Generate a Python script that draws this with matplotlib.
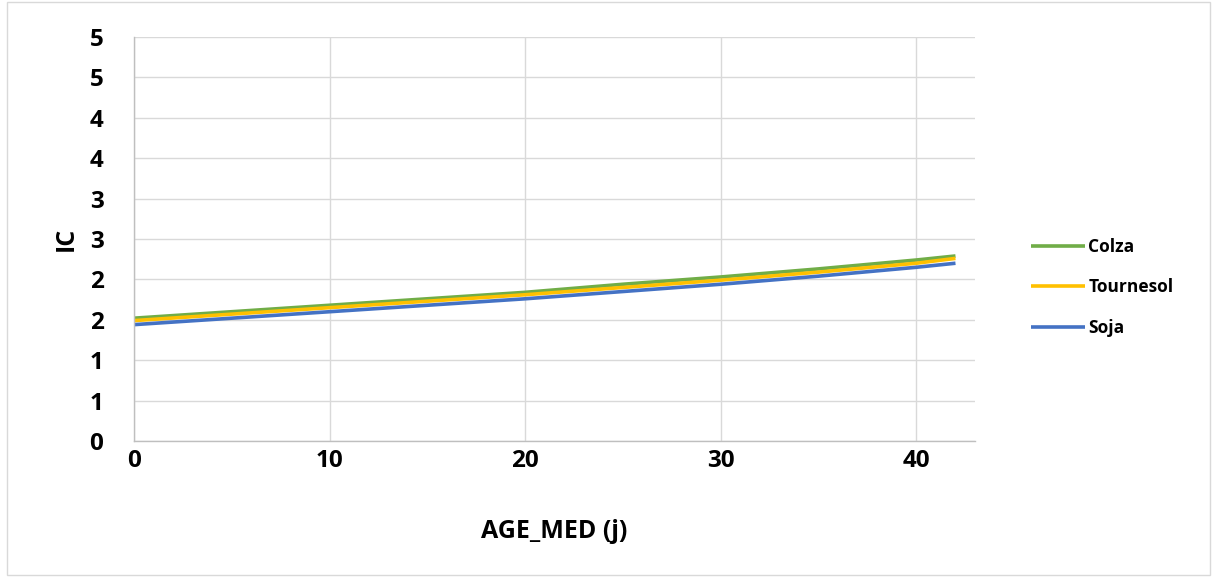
import numpy as np
import matplotlib
matplotlib.use("Agg")
import matplotlib.pyplot as plt
from matplotlib.patches import Rectangle

plt.rcParams['font.family'] = ['Open Sans', 'DejaVu Sans']
plt.rcParams['font.weight'] = 'bold'

# data
age = [0, 5, 10, 15, 20, 25, 30, 35, 40, 42]
colza = [1.52, 1.60, 1.68, 1.76, 1.84, 1.94, 2.03, 2.13, 2.24, 2.29]
tournesol = [1.49, 1.57, 1.65, 1.73, 1.81, 1.90, 1.99, 2.09, 2.20, 2.26]
soja = [1.44, 1.52, 1.60, 1.68, 1.76, 1.85, 1.94, 2.04, 2.15, 2.20]

y_ticks = [0, 0.5, 1, 1.5, 2, 2.5, 3, 3.5, 4, 4.5, 5]
y_labels = ["0", "1", "1", "2", "2", "3", "3", "4", "4", "5", "5"]
x_ticks = [0, 10, 20, 30, 40]

fig = plt.figure(figsize=(12.15, 5.77), dpi=100)
ax = fig.add_axes([0.1103, 0.2357, 0.6922, 0.7002])

ax.plot(age, colza, color='#70AD47', lw=2.6, label='Colza', solid_capstyle='butt')
ax.plot(age, tournesol, color='#FFC000', lw=2.6, label='Tournesol', solid_capstyle='butt')
ax.plot(age, soja, color='#4472C4', lw=2.6, label='Soja', solid_capstyle='butt')

ax.set_xlim(0, 43)
ax.set_ylim(0, 5)
ax.set_yticks(y_ticks)
ax.set_yticklabels(y_labels)
ax.set_xticks(x_ticks)
ax.grid(True, color='#d9d9d9', lw=1)
ax.set_axisbelow(True)
for s in ['top', 'right']:
    ax.spines[s].set_visible(False)
for s in ['left', 'bottom']:
    ax.spines[s].set_color('#bfbfbf')
    ax.spines[s].set_linewidth(1)
ax.tick_params(axis='both', length=0, labelsize=17.5)
ax.tick_params(axis='y', pad=22)
ax.tick_params(axis='x', pad=6)

ax.set_xlabel('AGE_MED (j)', fontsize=18, fontweight='bold', labelpad=33)
ax.set_ylabel('IC', fontsize=18, fontweight='bold', labelpad=8)

ax.legend(loc='center left', bbox_to_anchor=(1.048, 0.38), frameon=False,
          prop={'size': 12.5, 'weight': 'bold'}, handlelength=3.1,
          handletextpad=0.2, labelspacing=1.3)

fig.patches.append(Rectangle((0.006, 0.003), 0.99, 0.994, transform=fig.transFigure,
                             fill=False, edgecolor='#d9d9d9', lw=1))

fig.savefig('out.png', dpi=100)
